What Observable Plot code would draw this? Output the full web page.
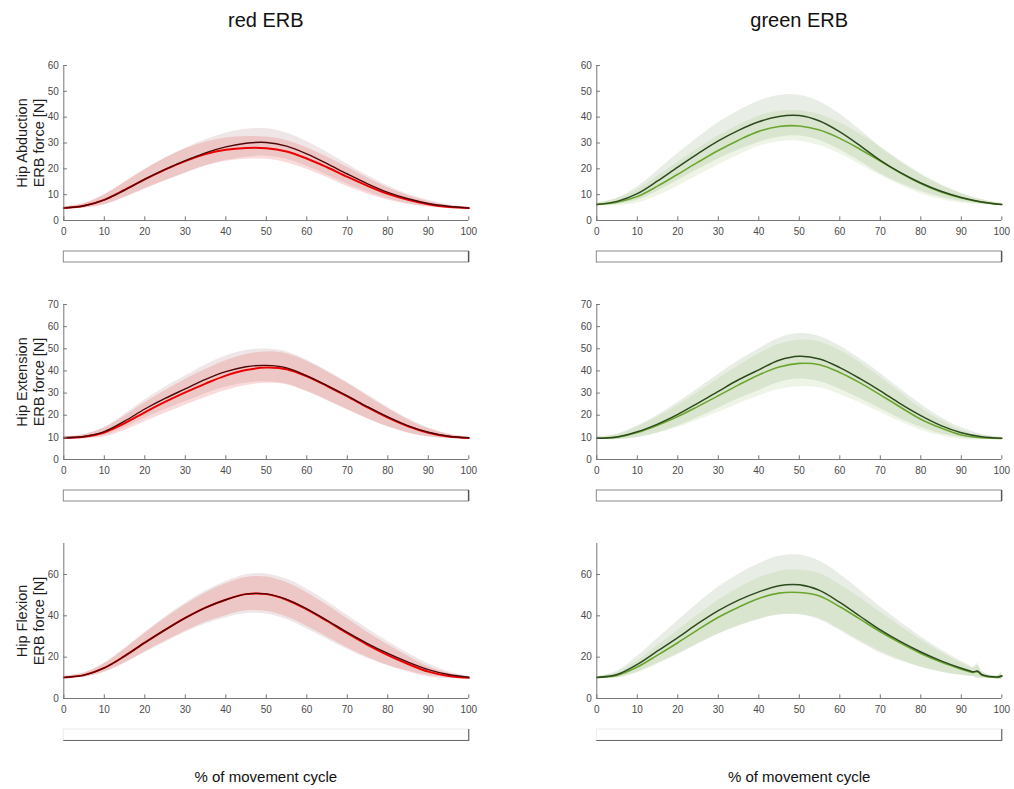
<!DOCTYPE html>
<html>
<head>
<meta charset="utf-8">
<script src="https://cdn.jsdelivr.net/npm/d3@7"></script>
<script src="https://cdn.jsdelivr.net/npm/@observablehq/plot@0.6"></script>
<style>
  body { margin: 0; background: #fff; overflow: hidden; }
  #fig { position: relative; width: 1014px; height: 789px; font-family: "Liberation Sans", Arial, sans-serif; }
  .abs { position: absolute; }
  .title { position: absolute; font-size: 20px; line-height: 1; color: #111; transform: translateX(-50%); white-space: nowrap; }
  .xlabel { position: absolute; font-size: 15px; line-height: 1; color: #111; transform: translateX(-50%); white-space: nowrap; }
</style>
</head>
<body>
<div id="fig"></div>
<script>
// % of movement cycle sample points
const pct = [0, 5, 10, 15, 20, 25, 30, 35, 40, 45, 50, 55, 60, 65, 70, 75, 80, 85, 90, 95, 100];
// finer sampling at the end of the green hip-flexion cycle
const flxGreenPct = [0, 5, 10, 15, 20, 25, 30, 35, 40, 45, 50, 55, 60, 65, 70, 75, 80, 85, 90, 92, 93, 94, 95, 96, 97, 98, 99, 100];

const xTicks = [0, 10, 20, 30, 40, 50, 60, 70, 80, 90, 100];
const yTicksAbd = [0, 10, 20, 30, 40, 50, 60];
const yTicksExt = [0, 10, 20, 30, 40, 50, 60, 70];
const yTicksFlx = [0, 20, 40, 60];

const columnTitles = ["red ERB", "green ERB"];
const rowLabels = ["Hip Abduction\nERB force [N]", "Hip Extension\nERB force [N]", "Hip Flexion\nERB force [N]"];
const xLabel = "% of movement cycle";

// phase bar under each panel (start / end of cycle)
const phaseStart = [0];
const phaseEnd = [100];

// Hip abduction, red ERB
const abdDarkRedMean = [4.8, 5.7, 8.0, 11.8, 16.0, 19.8, 23.2, 26.2, 28.5, 29.9, 30.2, 28.8, 25.8, 22.0, 18.0, 14.2, 10.9, 8.4, 6.6, 5.5, 4.8];
const abdDarkRedSd = [0.4, 0.8, 1.8, 2.8, 3.6, 4.3, 4.8, 5.1, 5.3, 5.4, 5.3, 5.1, 4.8, 4.4, 3.9, 3.2, 2.5, 1.8, 1.2, 0.6, 0.3];
const abdRedMean = [4.8, 5.7, 8.0, 11.8, 15.9, 19.7, 23.0, 25.7, 27.4, 28.1, 28.0, 26.7, 24.0, 20.6, 16.9, 13.4, 10.3, 8.0, 6.3, 5.2, 4.8];
const abdRedSd = [0.4, 0.9, 2.0, 3.0, 3.8, 4.4, 4.7, 4.6, 4.5, 4.4, 4.3, 4.3, 4.2, 4.0, 3.7, 3.1, 2.4, 1.7, 1.1, 0.6, 0.3];

// Hip abduction, green ERB
const abdDarkGreenMean = [6.2, 7.4, 10.4, 15.3, 20.7, 25.9, 30.8, 34.9, 38.2, 40.3, 40.6, 38.5, 34.3, 29.0, 23.3, 18.5, 14.5, 11.3, 8.9, 7.2, 6.2];
const abdDarkGreenSd = [0.5, 1.2, 2.6, 4.0, 5.2, 6.2, 7.0, 7.6, 8.0, 8.1, 7.9, 7.5, 6.9, 6.1, 5.2, 4.2, 3.2, 2.3, 1.5, 0.8, 0.4];
const abdGreenMean = [6.2, 7.1, 9.3, 13.3, 17.9, 22.6, 27.1, 31.1, 34.5, 36.4, 36.6, 35.0, 31.8, 27.6, 23.0, 18.4, 14.3, 11.0, 8.7, 7.1, 6.2];
const abdGreenSd = [0.5, 1.3, 2.6, 3.8, 4.6, 5.2, 5.6, 5.8, 5.9, 5.9, 5.9, 6.0, 6.0, 5.9, 5.5, 4.8, 3.9, 2.9, 1.9, 1.0, 0.4];

// Hip extension, red ERB
const extDarkRedMean = [9.8, 10.4, 12.6, 17.3, 22.8, 27.6, 31.9, 36.2, 39.7, 41.9, 42.5, 41.4, 37.8, 33.4, 28.7, 23.8, 19.2, 15.2, 12.3, 10.5, 9.8];
const extDarkRedSd = [0.3, 0.8, 1.8, 3.0, 4.1, 5.0, 5.8, 6.5, 7.0, 7.3, 7.4, 7.3, 7.1, 6.7, 6.2, 5.4, 4.4, 3.2, 2.0, 1.0, 0.3];
const extRedMean = [9.8, 10.3, 12.2, 16.3, 21.3, 26.0, 30.3, 34.3, 37.9, 40.4, 41.5, 40.8, 37.6, 33.2, 28.5, 23.5, 18.9, 15.0, 12.1, 10.4, 9.7];
const extRedSd = [0.3, 0.9, 2.0, 3.2, 4.3, 5.1, 5.8, 6.3, 6.7, 7.0, 7.1, 7.0, 6.8, 6.4, 5.9, 5.1, 4.1, 3.0, 1.9, 0.9, 0.3];

// Hip extension, green ERB
const extDarkGreenMean = [9.6, 10.2, 12.5, 16.0, 20.4, 25.5, 30.8, 36.0, 40.5, 44.8, 46.6, 45.4, 41.5, 36.5, 31.0, 25.1, 19.8, 15.3, 12.1, 10.3, 9.6];
const extDarkGreenSd = [0.4, 1.2, 2.6, 4.0, 5.3, 6.5, 7.6, 8.6, 9.4, 10.0, 10.3, 10.2, 9.8, 9.0, 8.0, 6.7, 5.2, 3.7, 2.3, 1.1, 0.4];
const extGreenMean = [9.6, 10.1, 12.2, 15.5, 19.4, 24.0, 28.8, 33.7, 38.2, 41.8, 43.4, 42.8, 39.3, 34.6, 29.2, 23.6, 18.2, 14.2, 11.1, 9.8, 9.5];
const extGreenSd = [0.4, 1.1, 2.4, 3.7, 5.0, 6.3, 7.5, 8.6, 9.5, 10.2, 10.5, 10.4, 9.9, 9.1, 8.0, 6.6, 5.0, 3.5, 2.1, 1.0, 0.4];

// Hip flexion, red ERB
const flxDarkRedMean = [10.2, 11.3, 14.8, 20.5, 27.0, 33.2, 39.0, 44.0, 47.8, 50.5, 50.6, 48.0, 43.4, 37.8, 32.0, 26.6, 21.8, 17.6, 14.0, 11.6, 10.3];
const flxDarkRedSd = [0.4, 1.0, 2.2, 3.6, 4.9, 6.1, 7.1, 8.0, 8.8, 9.4, 9.7, 9.8, 9.6, 9.1, 8.3, 7.2, 5.8, 4.3, 2.8, 1.4, 0.5];
const flxRedMean = [10.2, 11.3, 14.8, 20.5, 27.0, 33.2, 39.0, 44.0, 47.8, 50.5, 50.5, 47.8, 43.1, 37.5, 31.6, 26.0, 21.0, 16.7, 13.0, 10.9, 10.0];
const flxRedSd = [0.4, 1.0, 2.0, 3.3, 4.5, 5.5, 6.4, 7.1, 7.7, 8.1, 8.3, 8.3, 8.1, 7.7, 7.0, 6.1, 5.0, 3.8, 2.5, 1.3, 0.4];

// Hip flexion, green ERB (sampled on flxGreenPct)
const flxDarkGreenMean = [10.2, 11.6, 16.5, 23.0, 29.5, 36.3, 42.5, 47.6, 51.6, 54.6, 55.0, 52.3, 46.5, 39.8, 33.2, 27.5, 22.5, 18.2, 14.6, 13.4, 12.9, 13.3, 11.6, 11.0, 10.6, 10.5, 10.4, 11.0];
const flxDarkGreenSd = [0.4, 1.6, 3.8, 6.0, 8.0, 9.8, 11.3, 12.5, 13.5, 14.2, 14.4, 14.2, 13.6, 12.6, 11.2, 9.4, 7.4, 5.4, 3.4, 2.6, 2.2, 3.5, 1.8, 1.2, 0.8, 0.6, 0.8, 2.0];
const flxGreenMean = [10.2, 11.2, 15.2, 21.0, 27.0, 33.3, 39.3, 44.2, 48.4, 51.0, 51.3, 49.6, 44.4, 38.4, 32.3, 26.8, 21.8, 17.6, 14.2, 13.0, 12.6, 13.0, 11.4, 10.8, 10.4, 10.3, 10.2, 10.8];
const flxGreenSd = [0.4, 1.3, 2.9, 4.5, 5.9, 7.1, 8.2, 9.1, 9.9, 10.5, 10.8, 10.9, 10.8, 10.3, 9.4, 8.1, 6.5, 4.8, 3.0, 2.3, 2.0, 3.0, 1.6, 1.1, 0.8, 0.6, 0.7, 1.6];

// colours
const axisColor = "#777777";
const tickText = "#4a4a4a";
const redStyle = {
  dark: {line: "#4f0707", band: "rgb(150,95,95)", bandOpacity: 0.15, width: 1.4},
  light: {line: "#ee0000", band: "rgb(228,70,70)", bandOpacity: 0.2, width: 2}
};
const greenStyle = {
  dark: {line: "#2c4a1d", band: "rgb(110,140,95)", bandOpacity: 0.16, width: 1.5},
  light: {line: "#6aa62e", band: "rgb(125,180,70)", bandOpacity: 0.13, width: 1.6}
};

const fig = document.getElementById("fig");

// column geometry (svg left edge); frame runs from left+63.3 to left+468.3
const colLeft = [0, 533.4];
// row geometry: svg top, y domain max, y ticks, tick count, bar top
const rows = [
  {top: 45, yMax: 60, yTicks: yTicksAbd, barTop: 249.5},
  {top: 284, yMax: 70, yTicks: yTicksExt, barTop: 488.8},
  {top: 522.7, yMax: 75, yTicks: yTicksFlx, barTop: 727.5, openBar: true}
];

const panels = [
  [
    {pct, label: rowLabels[0], style: redStyle, dark: [abdDarkRedMean, abdDarkRedSd], light: [abdRedMean, abdRedSd]},
    {pct, label: null, style: greenStyle, dark: [abdDarkGreenMean, abdDarkGreenSd], light: [abdGreenMean, abdGreenSd]}
  ],
  [
    {pct, label: rowLabels[1], style: redStyle, dark: [extDarkRedMean, extDarkRedSd], light: [extRedMean, extRedSd]},
    {pct, label: null, style: greenStyle, dark: [extDarkGreenMean, extDarkGreenSd], light: [extGreenMean, extGreenSd]}
  ],
  [
    {pct, label: rowLabels[2], style: redStyle, dark: [flxDarkRedMean, flxDarkRedSd], light: [flxRedMean, flxRedSd]},
    {pct: flxGreenPct, label: null, style: greenStyle, dark: [flxDarkGreenMean, flxDarkGreenSd], light: [flxGreenMean, flxGreenSd]}
  ]
];

function toRows(xs, mean, sd) {
  return xs.map((x, i) => ({x, m: mean[i], lo: mean[i] - sd[i], hi: mean[i] + sd[i]}));
}

function place(node, left, top) {
  node.classList.add("abs");
  node.style.left = left + "px";
  node.style.top = top + "px";
  fig.appendChild(node);
}

rows.forEach((row, r) => {
  panels[r].forEach((p, c) => {
    const darkRows = toRows(p.pct, p.dark[0], p.dark[1]);
    const lightRows = toRows(p.pct, p.light[0], p.light[1]);
    const s = p.style;
    const tickLen = row.yMax * 0.024;
    const marks = [
      Plot.areaY(darkRows, {x: "x", y1: "lo", y2: "hi", fill: s.dark.band, fillOpacity: s.dark.bandOpacity, curve: "catmull-rom"}),
      Plot.areaY(lightRows, {x: "x", y1: "lo", y2: "hi", fill: s.light.band, fillOpacity: s.light.bandOpacity, curve: "catmull-rom"}),
      Plot.lineY(lightRows, {x: "x", y: "m", stroke: s.light.line, strokeWidth: s.light.width, curve: "catmull-rom"}),
      Plot.lineY(darkRows, {x: "x", y: "m", stroke: s.dark.line, strokeWidth: s.dark.width, curve: "catmull-rom"}),
      // axis lines and inward ticks
      Plot.ruleY([0], {stroke: axisColor}),
      Plot.ruleX([0], {y1: 0, y2: row.yMax, stroke: axisColor}),
      Plot.ruleX(xTicks, {x: d => d, y1: 0, y2: tickLen, stroke: axisColor}),
      Plot.ruleY(row.yTicks, {y: d => d, x1: 0, x2: 0.9, stroke: axisColor})
    ];
    if (p.label) {
      marks.push(Plot.text([p.label], {
        text: d => d, frameAnchor: "left", rotate: -90, dx: -34,
        fontSize: 14.5, lineHeight: 1.2, fill: "#1e1e1e", textAnchor: "middle"
      }));
    }
    const chart = Plot.plot({
      width: 480,
      height: 200,
      marginLeft: 63.3,
      marginRight: 11.7,
      marginTop: 20,
      marginBottom: 25,
      x: {domain: [0, 100], ticks: 10, tickSize: 0, tickPadding: 7, label: null},
      y: {domain: [0, row.yMax], ticks: row.yTicks.length - 1, tickSize: 0, tickPadding: 5, label: null},
      style: {fontFamily: "Liberation Sans, Arial, sans-serif", fontSize: "10px", color: tickText, background: "transparent", overflow: "visible"},
      marks
    });
    place(chart, colLeft[c], row.top);

    // phase bar below the axis
    const phases = phaseStart.map((a, i) => ({a, b: phaseEnd[i]}));
    const barMarks = row.openBar
      ? [
          Plot.rect(phases, {x1: "a", x2: "b", fill: "#ffffff", stroke: "#ececec"}),
          Plot.frame({anchor: "bottom", stroke: "#6a6a6a"}),
          Plot.ruleX(phaseEnd, {stroke: "#4a4a4a"})
        ]
      : [
          Plot.rect(phases, {x1: "a", x2: "b", fill: "#ffffff", stroke: "#8a8a8a"}),
          Plot.ruleX(phaseEnd, {stroke: "#333333"})
        ];
    const bar = Plot.plot({
      width: 480,
      height: 13,
      marginLeft: 63.3,
      marginRight: 11.7,
      marginTop: 1,
      marginBottom: 1,
      x: {domain: [0, 100], axis: null},
      style: {background: "transparent", overflow: "visible"},
      marks: barMarks
    });
    place(bar, colLeft[c], row.barTop);
  });
});

// column titles and x-axis labels
const colCentre = [265.8, 799.2];
columnTitles.forEach((t, c) => {
  const d = document.createElement("div");
  d.className = "title";
  d.textContent = t;
  d.style.left = colCentre[c] + "px";
  d.style.top = "10px";
  fig.appendChild(d);
  const x = document.createElement("div");
  x.className = "xlabel";
  x.textContent = xLabel;
  x.style.left = colCentre[c] + "px";
  x.style.top = "769px";
  fig.appendChild(x);
});
</script>
</body>
</html>
